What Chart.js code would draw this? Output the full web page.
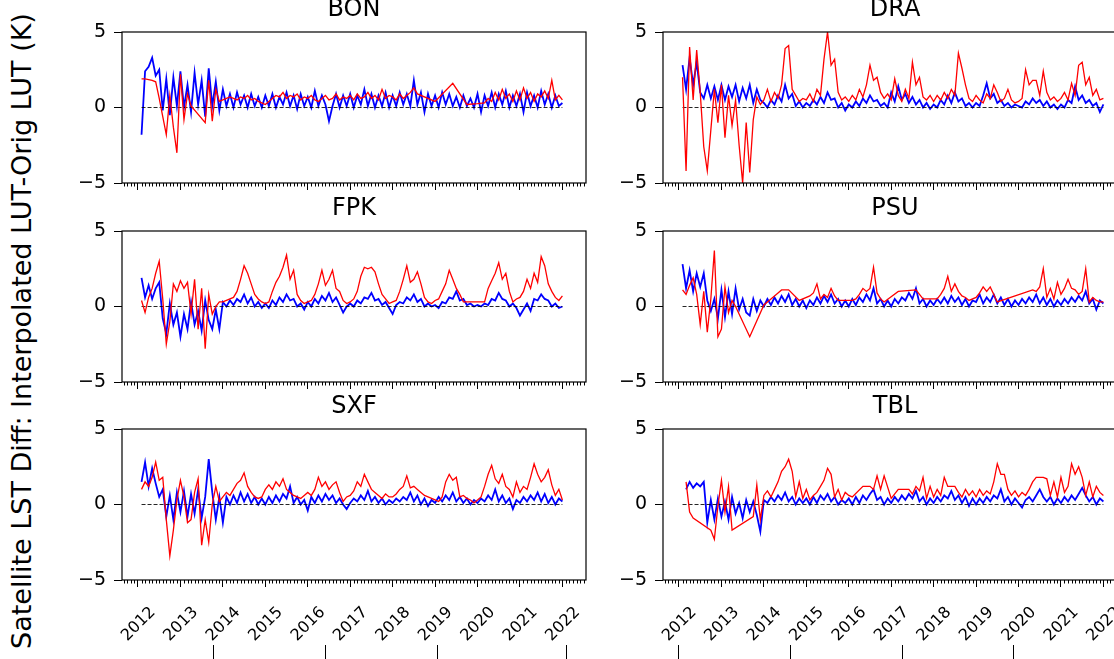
<!DOCTYPE html>
<html>
<head>
<meta charset="utf-8">
<script src="https://cdn.jsdelivr.net/npm/chart.js@4.4.0/dist/chart.umd.min.js"></script>
<style>
  html, body { margin: 0; padding: 0; background: #fff; }
  body { width: 1114px; height: 659px; overflow: hidden; position: relative; font-family: 'DejaVu Sans', sans-serif; }
  #ylabel { position: absolute; left: 20.7px; top: 331px; width: 700px; transform: translate(-50%, -50%) rotate(-90deg);
            font-size: 27px; line-height: 27px; text-align: center; white-space: nowrap; color: #000; }
  .sep { position: absolute; top: 645px; width: 1px; height: 14px; background: #000; }
</style>
</head>
<body>
<div id="ylabel">Satellite LST Diff: Interpolated LUT-Orig LUT (K)</div>
<div class="sep" style="left:213px"></div>
<div class="sep" style="left:325px"></div>
<div class="sep" style="left:437px"></div>
<div class="sep" style="left:566px"></div>
<div class="sep" style="left:678px"></div>
<div class="sep" style="left:790px"></div>
<div class="sep" style="left:902px"></div>
<div class="sep" style="left:1013px"></div>
<script>
// monthly samples, Feb 2012 .. Jan 2022 (one row per year)
const START = 2012 + 1 / 12;
const STEP = 1 / 12;

const stations = ['BON', 'DRA', 'FPK', 'PSU', 'SXF', 'TBL'];
const yearTicks = [2012, 2013, 2014, 2015, 2016, 2017, 2018, 2019, 2020, 2021, 2022];
const yTicks = [-5, 0, 5];
const X_MIN = 2011.623, X_MAX = 2022.556;

const bonBlue = [
  -1.8, 2.4, 2.7, 3.3, 2.1, 2.5, -0.2, 1.9, -0.5, 2.0, 0.1,
  2.4, 0.0, 1.5, -0.3, 2.3, 0.2, 1.8, -0.6, 2.6, 0.1, 1.7, -0.2,
  1.2, 0.1, 0.9, 0.0, 1.0, 0.2, 0.8, 0.0, 0.9, 0.1, 0.7, 0.0,
  0.8, 0.1, 0.9, 0.0, 0.7, 0.2, 1.0, 0.1, 0.8, -0.1, 0.9, 0.1,
  0.7, 0.0, 1.1, 0.1, 0.8, 0.2, -0.9, 0.1, 0.9, 0.0, 0.8, 0.1,
  0.9, 0.0, 0.8, 0.2, 1.2, 0.1, 0.9, 0.0, 0.8, 0.1, 1.0, 0.0,
  0.8, 0.1, 1.0, 0.2, 0.9, 0.1, 1.8, 0.2, 1.0, -0.3, 0.9, 0.1,
  0.8, 0.0, 1.0, 0.2, 0.9, 0.1, 0.7, 0.0, 0.8, 0.1, 0.6, 0.0,
  0.9, -0.3, 0.8, 0.1, 1.0, 0.0, 0.9, 0.2, 1.1, 0.0, 0.8, 0.1,
  0.9, -0.3, 1.0, 0.1, 0.8, 0.0, 1.1, 0.2, 0.9, 0.0, 0.8, 0.1,
  0.3
];
const bonRed = [
  1.9, 1.9, 1.85, 1.8, 1.7, 0.6, -0.6, -1.8, 0.8, -1.3, -3.0,
  2.2, -0.8, 0.9, 0.1, null, null, null, -1.0, 1.8, -0.9, 1.2, 0.4,
  0.5, 0.6, 0.7, 0.6, 0.5, 0.7, 0.6, 0.8, 0.5, 0.6, 0.4, 0.3,
  0.2, 0.4, 0.6, 0.8, 0.7, 1.0, 0.6, 0.8, 0.7, 0.9, 0.5, 0.7,
  0.6, 0.8, 0.5, 0.4, 0.6, 0.8, 0.5, 0.6, 0.9, 0.5, 0.7, 0.6,
  0.8, 0.5, 0.9, 0.6, 0.7, 1.0, 0.6, 0.8, 0.5, 1.2, 0.6, 0.8,
  0.7, 0.5, 0.9, 0.6, 0.8, 1.0, 1.3, 0.9, null, null, null, null,
  0.4, null, null, null, null, 1.6, null, null, null, 0.2, null, null,
  0.25, null, 0.3, 0.6, 0.4, 1.0, 0.5, 1.2, 0.6, 0.9, 0.4, 1.1,
  0.5, 1.3, 0.6, 1.0, 0.4, 0.9, 0.7, 1.1, 0.6, 1.8, 0.5, 0.8,
  0.5
];

const draBlue = [
  2.8, 1.2, 3.3, 1.5, 3.0, 1.0, 0.6, 1.5, 0.6, 1.4, 0.5,
  1.5, 0.5, 1.4, 0.7, 1.5, 0.4, 1.3, 0.6, 1.5, 0.3, 1.2, 0.5,
  0.3, 0.0, 0.5, 0.2, 0.8, 0.4, 1.5, 0.6, 0.9, 0.1, 0.4, 0.0,
  0.3, 0.1, 0.5, 0.2, 0.7, 0.3, 1.0, 0.5, 0.6, 0.0, 0.3, -0.2,
  0.2, 0.0, 0.4, 0.1, 0.6, 0.3, 0.8, 0.4, 0.5, 0.1, 0.3, 0.0,
  1.0, 0.4, 1.4, 0.5, 0.9, 0.3, 0.7, 0.2, 0.5, 0.0, 0.3, -0.1,
  0.2, 0.0, 0.5, 0.2, 0.8, 0.3, 1.0, 0.4, 0.6, 0.1, 0.3, 0.0,
  0.3, 0.1, 0.8, 1.6, 0.6, 0.9, 0.3, 0.5, 0.1, 0.3, 0.0, 0.2,
  0.1, 0.0, 0.4, 0.2, 0.6, 0.3, 0.5, 0.1, 0.4, 0.0, 0.2, -0.1,
  0.2, 0.0, 0.5, 0.3, 1.4, 0.5, 0.8, 0.3, 0.5, 0.1, 0.3, -0.3,
  0.2
];
const draRed = [
  2.0, -4.2, 4.0, 0.5, 3.8, 1.0, -2.6, -4.2, -1.5, 1.2, -1.0,
  1.5, -2.0, 0.8, -1.2, 0.5, -2.5, -5.0, -1.0, -4.3, -0.8, 0.7, 0.2,
  0.5, 1.2, 0.4, 1.0, 0.6, 1.5, 3.9, 4.1, 1.2, 0.8, 0.4, 0.6,
  0.5, 0.9, 0.4, 1.2, 0.8, 3.2, 5.0, 2.8, 3.2, 1.0, 0.5, 0.7,
  0.4, 0.8, 0.5, 1.2, 0.7, 1.5, 2.8, 1.8, 2.0, 1.0, 0.6, 0.9,
  0.5, 1.9, 0.8, 0.4, 1.2, 0.6, 3.0, 1.5, 2.0, 0.7, 0.5, 0.8,
  0.4, 0.8, 0.5, 1.0, 0.6, 1.2, 0.8, 3.6, 2.6, 1.5, 0.6, 0.4,
  0.8, 0.5, 0.3, 0.9, 0.6, 1.5, 1.0, 0.4, 0.6, 1.2, 0.5, 0.3,
  0.4, 0.6, 2.5, 1.5, 1.8, 1.8, 0.8, 2.4, 1.0, 0.5, 0.7, 0.4,
  0.6, 1.0, 0.5, 1.6, 0.8, 2.8, 3.0, 1.5, 2.0, 0.8, 1.2, 0.5,
  0.6
];

const fpkBlue = [
  1.9, 0.6, 1.4, 0.5, 1.2, 1.6, -0.8, -1.8, 0.2, -1.2, -0.4,
  -2.0, -0.5, -1.5, 0.3, -1.2, -0.3, -1.6, 0.4, -0.9, -1.5, -0.2, -1.5,
  0.3, 0.0, 0.4, 0.1, 0.5, 0.3, 0.8, 0.2, 0.6, 0.0, 0.3, -0.1,
  0.2, -0.1, 0.4, 0.1, 0.6, 0.3, 0.8, 0.4, 0.5, 0.0, 0.2, -0.2,
  0.3, 0.0, 0.5, 0.2, 0.7, 0.4, 0.9, 0.3, 0.6, 0.1, -0.4, 0.0,
  0.2, 0.0, 0.4, 0.2, 0.6, 0.5, 0.9, 0.4, 0.5, 0.1, 0.3, -0.1,
  -0.5, 0.1, 0.3, 0.2, 0.6, 0.4, 0.8, 0.3, 0.5, 0.0, 0.2, 0.0,
  0.1, -0.1, 0.3, 0.2, 0.6, 0.5, 1.0, 0.4, 0.5, 0.1, 0.2, 0.0,
  0.1, 0.0, 0.2, 0.1, 0.5, 0.4, 0.9, 0.5, 0.4, 0.0, 0.2, -0.1,
  -0.6, -0.2, 0.2, -0.3, 0.5, 0.4, 0.8, 0.5, 0.4, 0.0, 0.2, -0.1,
  0.0
];
const fpkRed = [
  0.4, -0.4, 0.6, 1.2, 2.2, 3.0, 0.5, -2.5, -1.0, 1.5, 1.0,
  1.7, 1.2, 1.6, -0.5, 1.8, -1.5, 1.2, -2.8, 0.8, -0.5, 0.0, 0.3,
  0.3, 0.4, 0.5, 0.6, 1.0, 1.8, 2.7, 2.2, 1.5, 0.8, 0.5, 0.3,
  0.2, 0.3, 1.0, 1.6, 2.0, 2.6, 3.4, 1.8, 2.4, 0.8, 0.4, 0.2,
  0.3, 0.4, 0.8, 1.5, 2.4, 1.4, 1.8, 2.4, 1.2, 1.0, 0.4, 0.2,
  0.3, 0.5, 1.0, 2.0, 2.6, 2.5, 2.6, 2.3, 1.5, 0.8, 0.5, 0.2,
  0.3, 0.4, 1.0, 1.8, 2.7, 1.6, 1.8, 2.3, 1.5, 0.6, 0.3, 0.2,
  0.4, 0.5, 1.0, 1.5, 2.4, 1.8, 1.2, 0.8, 0.3, null, null, null,
  null, 0.3, 0.3, 1.2, 1.7, 2.2, 2.9, 1.8, 2.2, 1.0, 0.3, 0.5,
  0.6, 1.0, 1.8, 1.2, 2.2, 1.6, 3.3, 2.7, 1.5, 1.0, 0.6, 0.4,
  0.7
];

const psuBlue = [
  2.8, 1.2, 2.4, 1.0, 2.2, 1.3, 2.2, 0.4, -0.3, 0.5, -0.8,
  1.1, -0.7, 1.0, -0.5, 1.2, -0.2, 0.5, -0.4, -0.6, 0.5, -0.3, 0.4,
  0.0, 0.5, 0.1, 0.6, 0.2, 0.7, 0.3, 0.8, 0.1, 0.5, 0.0, 0.4,
  -0.1, 0.4, 0.1, 0.6, 0.2, 0.7, 0.3, 0.8, 0.2, 0.5, 0.0, 0.4,
  0.0, 0.5, 0.1, 0.6, 0.3, 0.8, 0.4, 1.2, 0.2, 0.5, 0.0, 0.4,
  0.0, 0.5, 0.2, 0.6, 0.4, 0.9, 0.5, 1.2, 0.2, 0.5, 0.0, 0.4,
  0.1, 0.5, 0.2, 0.6, 0.2, 0.7, 0.3, 0.6, 0.1, 0.5, 0.0, 0.4,
  0.3, 0.8, 0.2, 0.6, 0.3, 0.8, 0.2, 0.6, 0.1, 0.5, 0.0, 0.4,
  0.1, 0.5, 0.2, 0.6, 0.3, 0.8, 0.2, 0.6, 0.1, 0.5, 0.0, 0.4,
  0.1, 0.5, 0.2, 0.6, 0.3, 0.7, 0.4, 1.0, 0.2, 0.5, -0.2, 0.4,
  0.2
];
const psuRed = [
  1.1, 0.8, 1.4, 1.9, 0.8, -1.2, 1.0, -1.7, 0.5, 3.7, -2.0,
  -1.5, 1.3, -0.4, 0.4, 0.0, null, null, null, -2.0, null, null, null,
  0.1, 0.3, 0.5, 0.7, 0.9, 1.1, 1.1, 1.1, null, null, 0.4, null,
  null, 0.7, 0.9, 1.5, 0.5, 0.8, 0.6, 1.2, 0.7, 0.4, null, null,
  null, 0.4, 0.5, 0.8, 1.2, 1.0, 1.2, 2.6, 0.9, 0.5, 0.3, null,
  null, null, 1.0, null, null, null, null, 1.1, null, 0.5, null, null,
  null, 0.5, 0.8, 1.2, 2.0, 1.0, 1.5, 1.0, 0.7, 0.6, 0.4, null,
  0.6, 0.9, 1.3, 1.0, 1.3, null, 0.3, null, null, null, null, null,
  null, null, null, null, 1.1, 1.0, 1.3, 2.5, 0.6, 1.2, 0.5, 1.6,
  0.8, 1.2, 1.8, 1.2, 1.1, 0.8, 1.0, 2.5, 0.3, 0.6, 0.4, 0.3,
  0.3
];

const sxfBlue = [
  1.5, 2.8, 1.2, 2.4, 1.4, 0.5, 1.0, -0.8, 0.6, -1.0, 0.8,
  -0.5, 0.9, -0.8, 0.7, -0.6, 1.0, -0.9, 0.5, 3.0, 0.8, -1.0, 0.5,
  -1.2, 0.5, 0.0, 0.6, 0.1, 0.8, 0.2, 0.7, 0.1, 0.5, 0.0, 0.4,
  0.0, 0.5, 0.1, 0.6, 0.2, 0.7, 0.4, 1.2, 0.1, 0.5, 0.0, 0.3,
  -0.4, 0.5, 0.1, 0.6, 0.2, 0.7, 0.3, 0.6, 0.1, 0.4, 0.0, -0.3,
  0.1, 0.4, 0.2, 0.6, 0.3, 0.9, 0.2, 0.5, 0.1, 0.4, 0.0, 0.3,
  0.1, 0.4, 0.2, 0.5, 0.3, 0.8, 0.2, 0.6, 0.0, 0.4, -0.1, 0.3,
  0.1, 0.5, 0.2, 0.6, 0.3, 0.8, 0.2, 0.5, 0.1, 0.4, 0.0, 0.3,
  0.1, 0.4, 0.2, 0.6, 0.3, 1.0, 0.2, 0.6, 0.1, 0.4, -0.3, 0.3,
  0.1, 0.5, 0.2, 0.6, 0.3, 0.8, 0.2, 0.7, 0.1, 0.5, 0.0, 0.4,
  0.2
];
const sxfRed = [
  1.0, 1.5, 1.2, 1.8, 2.8, 1.6, 1.8, -1.0, -3.4, -1.7, 0.3,
  1.6, 0.5, -1.2, -1.0, 0.8, 1.7, -2.7, -1.0, -2.5, 0.0, 1.2, 0.2,
  0.5, 0.8, 0.6, 1.0, 1.4, 1.6, 2.1, 1.2, 0.8, 0.5, 0.4, 0.5,
  1.0, 1.3, 1.0, 1.5, 1.2, 1.7, 1.0, 0.8, 0.6, 0.5, 0.4, 0.6,
  0.8, 0.6, 1.0, 1.8, 1.2, 1.5, 1.0, 1.3, 1.5, 0.8, 0.2, 0.5,
  0.6, 0.9, 1.5, 1.2, 2.0, 1.5, 1.0, 0.8, 0.6, 0.4, 0.7, 0.5,
  0.5, 0.7, 1.0, 1.2, 1.9, 1.1, 1.2, 1.0, 0.8, 0.6, 0.5, 0.4,
  0.3, 0.2, 0.5, 1.5, 2.0, 1.6, 1.8, 0.5, 0.6, 0.4, 0.3, 0.1,
  0.3, 0.5, 1.2, 2.0, 2.6, 1.7, 1.4, 2.0, 1.2, 1.0, 0.5, 1.5,
  0.8, 1.2, 1.0, 1.8, 2.7, 2.0, 1.5, 1.8, 2.3, 1.3, 0.6, 1.0,
  0.3
];

const tblBlue = [
  null, 1.0, 1.5, 1.1, 1.4, 1.2, 1.5, -1.2, 0.3, -1.0, 0.4,
  -0.8, 0.2, -1.0, 0.5, -0.6, 0.1, -0.9, 0.3, -0.5, 0.2, -0.7, -1.8,
  0.3, 0.1, 0.5, 0.2, 0.6, 0.3, 0.8, 0.2, 0.5, 0.0, 0.4, 0.1,
  0.4, 0.0, 0.5, 0.1, 0.6, 0.3, 0.7, 0.2, 0.5, 0.0, 0.3, 0.1,
  0.4, 0.0, 0.5, 0.1, 0.6, 0.3, 0.7, 1.0, 0.3, 0.5, 0.0, 0.4,
  0.1, 0.5, 0.2, 0.6, 0.3, 0.7, 0.4, 0.9, 0.2, 0.5, 0.0, 0.4,
  0.1, 0.5, 0.2, 0.6, 0.4, 0.9, 0.3, 0.6, 0.1, 0.5, -0.1, 0.4,
  0.0, 0.4, 0.1, 0.5, 0.2, 0.6, 0.4, 1.0, 0.2, 0.5, 0.0, 0.4,
  0.1, -0.2, 0.3, 0.5, 0.2, 0.6, 1.0, 0.5, 0.2, 0.5, 0.0, 0.4,
  0.1, 0.5, 0.2, 0.6, 0.3, 0.7, 1.1, 0.6, 0.2, 0.5, 0.0, 0.4,
  0.2
];
const tblRed = [
  null, 1.5, -0.5, -0.9, null, null, null, null, -1.7, -2.3, -0.1,
  1.6, -0.5, 1.2, -1.7, null, null, null, null, null, -0.8, 1.3, -1.0,
  0.6, 0.9, 0.5, 1.0, 1.5, 2.2, 2.5, 3.0, 2.2, 0.5, 1.5, 0.4,
  1.0, 0.3, 0.6, 0.8, 1.2, 1.6, 2.4, 2.0, 0.5, 1.0, 0.3, 0.8,
  0.6, 0.5, null, null, 1.2, 1.2, 1.2, 1.0, 1.9, 1.0, 1.9, null,
  0.4, 0.7, 1.0, 1.0, 1.0, 1.0, 0.7, 1.2, 0.9, 1.8, 0.4, 1.2,
  0.5, 1.0, 0.6, 1.8, 1.2, 1.2, 1.2, 0.8, 0.5, 1.0, 0.6, 0.9,
  0.5, 1.0, 0.6, 0.9, 0.7, 1.5, 2.7, 2.0, 2.0, 1.0, 0.6, 0.9,
  0.5, 0.8, 0.6, 1.0, 1.5, 1.8, 1.8, 1.8, 1.7, 0.6, 1.5, 0.5,
  1.8, 0.8, 1.2, 2.7, 2.0, 2.5, 1.8, 0.6, 1.5, 0.5, 1.2, 0.8,
  0.6
];

const blueSeries = [bonBlue, draBlue, fpkBlue, psuBlue, sxfBlue, tblBlue];
const redSeries = [bonRed, draRed, fpkRed, psuRed, sxfRed, tblRed];

// page layout (plot boxes)
const colLeft = [122, 663];
const rowTop = [32, 231, 429];
const PLOT_W = 464, PLOT_H = 151;
const YAX_W = 80, XAX_H = 64, TITLE_H = 36, PAD_R = 12;
const FONT = 'DejaVu Sans';

Chart.defaults.font.family = FONT;
Chart.defaults.color = '#000';

function toPoints(values) {
  return values.map((v, i) => ({ x: START + i * STEP, y: v }));
}

// month ticks between the years
const minorTicks = [];
for (let y = 2011; y <= 2022; y++) {
  for (let m = 1; m < 12; m++) {
    const v = y + m / 12;
    if (v > X_MIN && v < X_MAX) minorTicks.push(v);
  }
}

const framePlugin = {
  id: 'frame',
  afterDraw(chart) {
    const { ctx, chartArea: a } = chart;
    const xs = chart.scales.x;
    ctx.save();
    ctx.strokeStyle = '#000';
    ctx.lineWidth = 1;
    ctx.beginPath();
    minorTicks.forEach(v => {
      const px = Math.round(xs.getPixelForValue(v)) + 0.5;
      ctx.moveTo(px, a.bottom);
      ctx.lineTo(px, a.bottom + 3.5);
    });
    ctx.stroke();
    ctx.lineWidth = 1.2;
    ctx.strokeRect(a.left, a.top, a.right - a.left, a.bottom - a.top);
    ctx.restore();
  }
};

function makePanel(idx) {
  const col = idx % 2, row = Math.floor(idx / 2);
  const showYears = row === rowTop.length - 1;
  const w = YAX_W + PLOT_W + PAD_R, h = TITLE_H + PLOT_H + XAX_H;
  const canvas = document.createElement('canvas');
  canvas.width = w;
  canvas.height = h;
  canvas.style.cssText = 'position:absolute;left:' + (colLeft[col] - YAX_W) + 'px;top:' +
    (rowTop[row] - TITLE_H) + 'px;width:' + w + 'px;height:' + h + 'px';
  document.body.appendChild(canvas);

  const n = blueSeries[idx].length;
  const zeroLine = [{ x: START, y: 0 }, { x: START + (n - 1) * STEP, y: 0 }];

  new Chart(canvas, {
    type: 'line',
    data: {
      datasets: [
        { data: toPoints(redSeries[idx]), borderColor: '#ff0000', borderWidth: 1.3, spanGaps: true },
        { data: zeroLine, borderColor: 'rgba(0,0,0,0.85)', borderWidth: 1, borderDash: [4, 2] },
        { data: toPoints(blueSeries[idx]), borderColor: '#0000ff', borderWidth: 1.8, spanGaps: true }
      ]
    },
    options: {
      responsive: false,
      animation: false,
      devicePixelRatio: 1,
      layout: { autoPadding: false, padding: { left: 0, top: 0, right: PAD_R, bottom: 0 } },
      elements: { point: { radius: 0 }, line: { tension: 0 } },
      plugins: {
        legend: { display: false },
        tooltip: { enabled: false },
        title: {
          display: true, text: stations[idx], fullSize: false, color: '#000',
          font: { family: FONT, size: 24, weight: 'normal', lineHeight: '28px' },
          padding: { top: 0, bottom: 8 }
        }
      },
      scales: {
        x: {
          type: 'linear', min: X_MIN, max: X_MAX,
          afterBuildTicks: s => { s.ticks = yearTicks.map(v => ({ value: v })); },
          afterFit: s => { s.height = XAX_H; s.paddingLeft = 0; s.paddingRight = 0; },
          ticks: {
            display: showYears,
            autoSkip: false, minRotation: 45, maxRotation: 45, padding: 16, labelOffset: 15,
            font: { size: 16 }, color: '#000',
            callback: v => String(v)
          },
          grid: { drawOnChartArea: false, drawTicks: true, tickLength: 7, tickColor: '#000', tickWidth: 1 },
          border: { display: false }
        },
        y: {
          min: -5, max: 5,
          afterBuildTicks: s => { s.ticks = yTicks.map(v => ({ value: v })); },
          afterFit: s => { s.width = YAX_W; s.paddingTop = 0; s.paddingBottom = 0; },
          ticks: {
            padding: 8, font: { size: 19 }, color: '#000',
            callback: v => String(v).replace('-', '\u2212')
          },
          grid: { drawOnChartArea: false, drawTicks: true, tickLength: 8, tickColor: '#000', tickWidth: 1 },
          border: { display: false }
        }
      }
    },
    plugins: [framePlugin]
  });
}

stations.forEach((s, i) => makePanel(i));
</script>
</body>
</html>
